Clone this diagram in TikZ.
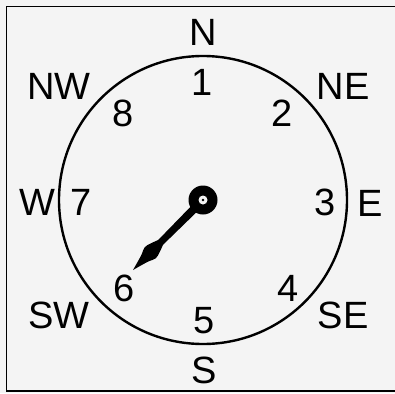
\documentclass[tikz,border=0pt]{standalone}
\usepackage{fontspec}
\setmainfont{Liberation Sans}
\usetikzlibrary{positioning,calc}

\definecolor{paper}{gray}{0.955}

\begin{document}
\begin{tikzpicture}[
    x=1pt, y=-1pt,
    label/.style={inner sep=0pt, font=\fontsize{38}{40}\selectfont},
    frame/.style={line width=1.8pt},
    dial/.style={line width=2.4pt},
    hand/.style={fill=black}
]
    \fill[paper] (0,0) rectangle (395,393);
    \useasboundingbox (0,0) rectangle (395,393);
    \draw[frame] (395,6.5) -- (6.5,6.5) -- (6.5,391) -- (395,391);

    % dial
    \coordinate (hub) at (203,200);
    \draw[dial] (hub) circle[radius=144];

    % compass points
    \node[label] (n)  at (203,32)  {N};
    \node[label] (ne) at (343,86)  {NE};
    \node[label] (e)  at (370,203) {E};
    \node[label] (se) at (343,315) {SE};
    \node[label] (s)  at (204,370) {S};
    \node[label] (sw) at (59,315)  {SW};
    \node[label] (w)  at (37,202)  {W};
    \node[label] (nw) at (59,86)   {NW};

    % positions
    \node[label] (p1) at (202,82)  {1};
    \node[label] (p2) at (282,113) {2};
    \node[label] (p3) at (325,202) {3};
    \node[label] (p4) at (288,288) {4};
    \node[label] (p5) at (204,321) {5};
    \node[label] (p6) at (124,288) {6};
    \node[label] (p7) at (81,202)  {7};
    \node[label] (p8) at (123,113) {8};

    % pointer
    \coordinate (tip) at (133,270);
    \fill[hand] (206,203) -- (163,244.8)
        -- plot[smooth, tension=0.6] coordinates {(163,244.8) (159.4,252.6) (155.5,258.5) (147.5,261.9) (133,270)}
        -- plot[smooth, tension=0.6] coordinates {(133,270) (141.1,255.5) (144.5,247.5) (150.4,243.6) (158.2,240)}
        -- (200,197) -- cycle;
    \fill[hand] (hub) circle[radius=14.5];
    \fill[paper] (hub) circle[radius=4.5];
    \fill[hand] (hub) circle[radius=1.4];
\end{tikzpicture}
\end{document}
